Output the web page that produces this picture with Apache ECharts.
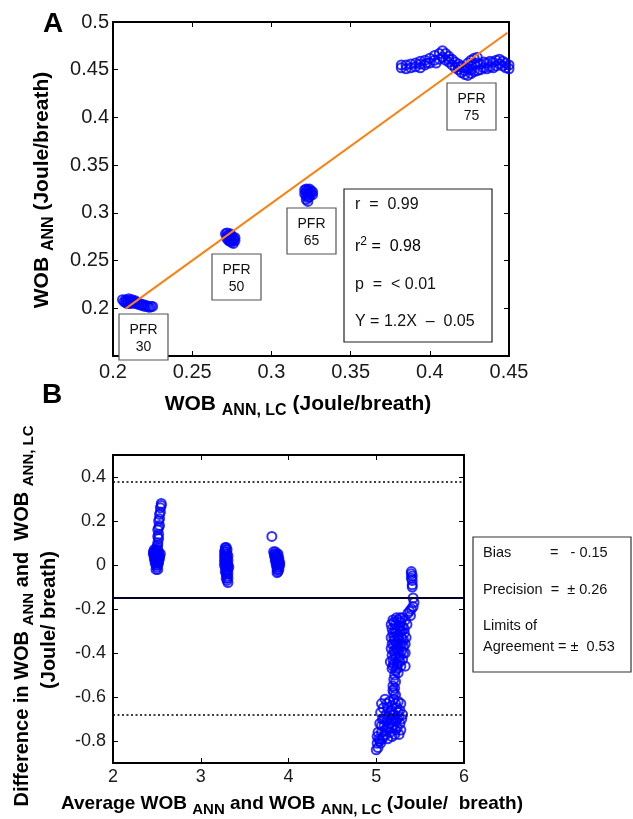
<!DOCTYPE html>
<html>
<head>
<meta charset="utf-8">
<script src="https://cdn.jsdelivr.net/npm/echarts@6/dist/echarts.min.js"></script>
<style>
html, body { margin: 0; padding: 0; background: #fff; }
#chart { width: 633px; height: 819px; }
</style>
</head>
<body>
<div id="chart"></div>
<script>
// ---------- Panel A: WOB_ANN vs WOB_ANN,LC ----------
const pfr30 = [[0.206,0.209],[0.207,0.207],[0.208,0.209],[0.208,0.206],[0.209,0.208],[0.210,0.210],[0.210,0.206],[0.211,0.208],[0.212,0.209],[0.212,0.206],[0.213,0.207],[0.214,0.208],[0.215,0.206],[0.216,0.204],[0.217,0.205],[0.218,0.203],[0.219,0.204],[0.220,0.202],[0.221,0.203],[0.222,0.202],[0.223,0.201],[0.224,0.202],[0.225,0.202],[0.214,0.205],[0.211,0.205],[0.209,0.205]];
const pfr50 = [[0.271,0.278],[0.272,0.279],[0.273,0.277],[0.274,0.278],[0.272,0.276],[0.273,0.274],[0.274,0.275],[0.275,0.276],[0.276,0.274],[0.272,0.273],[0.274,0.272],[0.275,0.271],[0.276,0.272],[0.277,0.271],[0.275,0.269],[0.276,0.268],[0.274,0.270],[0.277,0.274],[0.273,0.271]];
const pfr65 = [[0.321,0.324],[0.322,0.325],[0.323,0.324],[0.324,0.325],[0.325,0.323],[0.326,0.322],[0.322,0.322],[0.324,0.321],[0.321,0.320],[0.323,0.319],[0.325,0.320],[0.322,0.318],[0.324,0.317],[0.323,0.316],[0.322,0.314],[0.323,0.312],[0.326,0.319]];
const pfr75 = [[0.382,0.452],[0.382,0.455],[0.385,0.451],[0.385,0.455],[0.388,0.452],[0.388,0.456],[0.391,0.453],[0.391,0.457],[0.394,0.452],[0.394,0.456],[0.394,0.459],[0.397,0.455],[0.397,0.460],[0.398,0.457],[0.400,0.457],[0.400,0.462],[0.403,0.460],[0.403,0.465],[0.404,0.457],[0.406,0.461],[0.406,0.467],[0.408,0.463],[0.408,0.470],[0.410,0.460],[0.410,0.467],[0.412,0.458],[0.412,0.461],[0.412,0.464],[0.414,0.455],[0.414,0.461],[0.416,0.452],[0.416,0.458],[0.418,0.450],[0.418,0.453],[0.418,0.456],[0.420,0.447],[0.420,0.454],[0.422,0.445],[0.422,0.449],[0.422,0.452],[0.424,0.444],[0.424,0.451],[0.424,0.457],[0.426,0.446],[0.426,0.450],[0.426,0.454],[0.426,0.460],[0.428,0.448],[0.428,0.456],[0.428,0.462],[0.430,0.449],[0.430,0.457],[0.430,0.463],[0.432,0.450],[0.432,0.456],[0.434,0.452],[0.434,0.458],[0.436,0.451],[0.436,0.457],[0.438,0.453],[0.438,0.459],[0.440,0.452],[0.440,0.458],[0.442,0.454],[0.442,0.460],[0.444,0.456],[0.444,0.461],[0.446,0.454],[0.446,0.459],[0.448,0.452],[0.448,0.457],[0.450,0.451],[0.450,0.455]];

// Regression Y = 1.2X - 0.05 over the measured range
const fitSlope = 1.2;
const fitIntercept = -0.05;
const fitXRange = [0.208, 0.449];

const aXTicks = [0.2, 0.25, 0.3, 0.35, 0.4, 0.45];
const aYTicks = [0.2, 0.25, 0.3, 0.35, 0.4, 0.45, 0.5];

// ---------- Panel B: Bland-Altman ----------
const baPfr30 = [[2.55,0.28],[2.55,0.27],[2.54,0.26],[2.54,0.24],[2.53,0.23],[2.53,0.21],[2.52,0.20],[2.53,0.18],[2.52,0.17],[2.51,0.16],[2.52,0.14],[2.51,0.13],[2.52,0.12],[2.51,0.10],[2.51,0.09],[2.50,0.08],
  [2.47,0.07],[2.49,0.07],[2.51,0.07],[2.46,0.06],[2.48,0.06],[2.50,0.06],[2.52,0.06],[2.46,0.05],[2.48,0.05],[2.50,0.05],[2.52,0.05],[2.54,0.05],[2.47,0.04],[2.49,0.04],[2.51,0.04],[2.53,0.04],[2.47,0.03],[2.49,0.03],[2.51,0.03],[2.53,0.03],[2.48,0.02],[2.50,0.02],[2.52,0.02],[2.48,0.01],[2.50,0.01],[2.52,0.01],[2.49,0.00],[2.51,0.00],[2.50,-0.01],[2.49,-0.02],[2.51,-0.02]];
const baPfr50 = [[3.28,0.08],[3.29,0.08],[3.28,0.07],[3.30,0.07],[3.27,0.06],[3.29,0.06],[3.28,0.05],[3.30,0.05],[3.27,0.04],[3.29,0.04],[3.31,0.04],[3.28,0.03],[3.30,0.03],[3.27,0.02],[3.29,0.02],[3.31,0.02],[3.28,0.01],[3.30,0.01],[3.27,0.00],[3.29,0.00],[3.31,0.00],[3.28,-0.01],[3.30,-0.01],[3.32,-0.01],[3.29,-0.02],[3.31,-0.02],[3.28,-0.03],[3.30,-0.03],[3.29,-0.04],[3.31,-0.04],[3.30,-0.05],[3.29,-0.06],[3.31,-0.06],[3.30,-0.07],[3.31,-0.08]];
const baPfr65 = [[3.81,0.13],[3.83,0.06],[3.85,0.06],[3.84,0.05],[3.86,0.05],[3.88,0.05],[3.84,0.04],[3.86,0.04],[3.88,0.04],[3.85,0.03],[3.87,0.03],[3.89,0.03],[3.85,0.02],[3.87,0.02],[3.89,0.02],[3.86,0.01],[3.88,0.01],[3.90,0.01],[3.86,0.00],[3.88,0.00],[3.90,0.00],[3.87,-0.01],[3.89,-0.01],[3.87,-0.02],[3.89,-0.02],[3.88,-0.03],[3.87,-0.035]];
const baPfr75 = [[5.40,-0.03],[5.40,-0.04],[5.41,-0.05],[5.40,-0.06],[5.41,-0.07],[5.41,-0.09],[5.41,-0.10],
  [5.42,-0.15],[5.43,-0.17],[5.42,-0.19],[5.40,-0.20],[5.38,-0.21],[5.36,-0.22],[5.39,-0.23],
  [5.30,-0.24],[5.25,-0.25],[5.20,-0.26],[5.17,-0.27],[5.22,-0.27],[5.28,-0.26],[5.33,-0.25],[5.18,-0.29],[5.24,-0.29],[5.30,-0.28],[5.35,-0.27],[5.19,-0.31],[5.22,-0.31],[5.27,-0.30],[5.32,-0.31],[5.17,-0.33],[5.21,-0.34],[5.25,-0.33],[5.29,-0.33],[5.34,-0.33],[5.18,-0.36],[5.23,-0.36],[5.27,-0.36],[5.31,-0.37],[5.17,-0.38],[5.20,-0.39],[5.25,-0.39],[5.29,-0.39],[5.33,-0.40],[5.18,-0.41],[5.22,-0.42],[5.26,-0.42],[5.30,-0.43],[5.16,-0.44],[5.20,-0.45],[5.24,-0.45],[5.28,-0.46],[5.18,-0.47],[5.22,-0.48],[5.25,-0.49],[5.19,-0.43],[5.23,-0.38],[5.27,-0.28],[5.26,-0.34],[5.21,-0.29],[5.33,-0.46],
  [5.19,-0.25],[5.23,-0.24],[5.27,-0.24],[5.32,-0.29],[5.29,-0.30],[5.24,-0.32],[5.20,-0.33],[5.31,-0.34],[5.20,-0.36],[5.25,-0.37],[5.29,-0.36],[5.33,-0.36],[5.21,-0.40],[5.27,-0.41],[5.31,-0.40],[5.19,-0.46],[5.27,-0.44],[5.24,-0.47],
  [5.21,-0.50],[5.20,-0.52],[5.22,-0.53],[5.19,-0.55],[5.21,-0.56],[5.20,-0.58],[5.22,-0.59],[5.19,-0.57],
  [5.06,-0.63],[5.10,-0.61],[5.15,-0.62],[5.20,-0.61],[5.25,-0.62],[5.28,-0.63],[5.08,-0.65],[5.13,-0.65],[5.18,-0.64],[5.23,-0.65],[5.27,-0.66],[5.05,-0.67],[5.11,-0.68],[5.16,-0.67],[5.21,-0.68],[5.26,-0.69],[5.30,-0.68],[5.07,-0.70],[5.12,-0.71],[5.17,-0.70],[5.22,-0.71],[5.27,-0.72],[5.04,-0.72],[5.09,-0.73],[5.14,-0.74],[5.19,-0.73],[5.24,-0.74],[5.28,-0.75],[5.02,-0.76],[5.06,-0.76],[5.11,-0.77],[5.16,-0.76],[5.21,-0.77],[5.03,-0.79],[5.08,-0.78],[5.13,-0.79],[5.01,-0.81],[5.05,-0.81],[5.02,-0.83],[5.00,-0.84],[5.10,-0.75],[5.15,-0.72],[5.20,-0.70],[5.25,-0.67],
  [5.12,-0.63],[5.17,-0.66],[5.22,-0.63],[5.29,-0.70],[5.14,-0.69],[5.19,-0.68],[5.24,-0.70],[5.09,-0.70],[5.06,-0.73],[5.12,-0.74],[5.17,-0.74],[5.22,-0.75],[5.26,-0.77],[5.07,-0.79],[5.04,-0.80],[5.18,-0.78],[5.01,-0.78]];

const bias = -0.15;
const limitsOfAgreement = 0.53;

const bXTicks = [2, 3, 4, 5, 6];
const bYTicks = [-0.8, -0.6, -0.4, -0.2, 0, 0.2, 0.4];

// ---------- Styling ----------
const FONT = 'Liberation Sans, Arial, sans-serif';
const BLUE = '#0000ff';

const fitLine = fitXRange.map(x => [x, fitSlope * x + fitIntercept]);

function frameAxis(extra) {
  return Object.assign({
    type: 'value',
    axisLine: { show: true, onZero: false, lineStyle: { color: '#000', width: 2 } },
    axisTick: { show: true, inside: true, length: 5, lineStyle: { color: '#000', width: 1 } },
    splitLine: { show: false },
    axisLabel: { show: false }
  }, extra);
}

function tickLabels(values, size, margin) {
  return { show: true, customValues: values, fontSize: size, fontFamily: FONT, color: '#1a1a1a', margin: margin };
}

function ticks(values) {
  return { show: true, inside: true, length: 5, customValues: values, lineStyle: { color: '#000', width: 1 } };
}

const circleStyle = { color: 'rgba(0,0,0,0)', borderColor: BLUE, borderWidth: 2 };

function scatter(data, xi, yi) {
  return {
    type: 'scatter', xAxisIndex: xi, yAxisIndex: yi, data: data,
    symbol: 'circle', symbolSize: 9, itemStyle: circleStyle, silent: true
  };
}

const titleRich = (big, small) => ({
  b: { fontSize: big, fontWeight: 'bold', fontFamily: FONT, color: '#000', lineHeight: big + 8 },
  s: { fontSize: small, fontWeight: 'bold', fontFamily: FONT, color: '#000', lineHeight: small + 2, verticalAlign: 'bottom' }
});

function textEl(x, y, text, size, opts) {
  return {
    type: 'text', x: x, y: y, z: 100,
    style: Object.assign({ text: text, fontSize: size, fontFamily: FONT, fill: '#111', align: 'center', verticalAlign: 'middle' }, opts || {})
  };
}

function boxEl(x, y, w, h, stroke) {
  return { type: 'rect', z: 90, shape: { x: x, y: y, width: w, height: h }, style: { fill: '#fff', stroke: stroke, lineWidth: 1.2 } };
}

const chart = echarts.init(document.getElementById('chart'), null, { renderer: 'canvas' });

const option = {
  animation: false,
  backgroundColor: '#fff',
  grid: [
    { left: 113, top: 22, width: 396, height: 334 },
    { left: 113, top: 455, width: 351, height: 308 }
  ],
  xAxis: [
    frameAxis({ gridIndex: 0, position: 'bottom', min: 0.2, max: 0.45, axisTick: ticks(aXTicks), axisLabel: tickLabels(aXTicks, 20, 6) }),
    frameAxis({ gridIndex: 0, position: 'top', min: 0.2, max: 0.45, axisTick: ticks(aXTicks) }),
    frameAxis({ gridIndex: 1, position: 'bottom', min: 2, max: 6, axisTick: ticks(bXTicks), axisLabel: tickLabels(bXTicks, 18, 5) }),
    frameAxis({ gridIndex: 1, position: 'top', min: 2, max: 6, axisTick: ticks(bXTicks) })
  ],
  yAxis: [
    frameAxis({ gridIndex: 0, position: 'left', min: 0.15, max: 0.5, axisTick: ticks(aYTicks), axisLabel: tickLabels(aYTicks, 20, 4) }),
    frameAxis({ gridIndex: 0, position: 'right', min: 0.15, max: 0.5, axisTick: ticks(aYTicks) }),
    frameAxis({ gridIndex: 1, position: 'left', min: -0.9, max: 0.5, axisTick: ticks(bYTicks), axisLabel: tickLabels(bYTicks, 18, 7) }),
    frameAxis({ gridIndex: 1, position: 'right', min: -0.9, max: 0.5, axisTick: ticks(bYTicks) })
  ],
  series: [
    scatter(pfr30, 0, 0),
    scatter(pfr50, 0, 0),
    scatter(pfr65, 0, 0),
    scatter(pfr75, 0, 0),
    {
      type: 'line', xAxisIndex: 0, yAxisIndex: 0, data: fitLine, symbol: 'none', silent: true, z: 3,
      lineStyle: { color: '#ff7f0e', width: 2 }
    },
    Object.assign(scatter(baPfr30, 2, 2), {
      markLine: {
        silent: true, symbol: 'none', label: { show: false }, animation: false,
        data: [
          { yAxis: bias + limitsOfAgreement, lineStyle: { type: [2, 2.5], color: '#000', width: 1.6 } },
          { yAxis: bias, lineStyle: { type: 'solid', color: '#000028', width: 2.2 } },
          { yAxis: bias - limitsOfAgreement, lineStyle: { type: [2, 2.5], color: '#000', width: 1.6 } }
        ]
      }
    }),
    scatter(baPfr50, 2, 2),
    scatter(baPfr65, 2, 2),
    scatter(baPfr75, 2, 2)
  ],
  graphic: [
    // panel letters
    textEl(53, 24, 'A', 28, { fontWeight: 'bold', fill: '#000' }),
    textEl(52, 395, 'B', 28, { fontWeight: 'bold', fill: '#000' }),

    // panel A axis titles
    { type: 'text', x: 298, y: 404, z: 100, style: { text: '{b|WOB }{s|ANN, LC}{b| (Joule/breath)}', rich: titleRich(21, 16), align: 'center', verticalAlign: 'middle' } },
    { type: 'text', x: 42, y: 190, rotation: Math.PI / 2, z: 100, style: { text: '{b|WOB }{s|ANN}{b| (Joule/breath)}', rich: titleRich(21, 16), align: 'center', verticalAlign: 'middle' } },

    // panel B axis titles
    { type: 'text', x: 292, y: 804, z: 100, style: { text: '{b|Average WOB }{s|ANN}{b| and WOB }{s|ANN, LC}{b| (Joule/  breath)}', rich: titleRich(19, 15), align: 'center', verticalAlign: 'middle' } },
    { type: 'text', x: 22, y: 616, rotation: Math.PI / 2, z: 100, style: { text: '{b|Difference in WOB }{s|ANN}{b| and  WOB }{s|ANN, LC}', rich: titleRich(20, 15), align: 'center', verticalAlign: 'middle' } },
    { type: 'text', x: 49, y: 620, rotation: Math.PI / 2, z: 100, style: { text: '{b|(Joule/ breath)}', rich: titleRich(20, 15), align: 'center', verticalAlign: 'middle' } },

    // PFR labels
    boxEl(119, 314, 49, 46, '#555'),
    textEl(143.5, 330, 'PFR', 14), textEl(143.5, 347, '30', 14),
    boxEl(212, 254, 49, 46, '#555'),
    textEl(236.5, 270, 'PFR', 14), textEl(236.5, 287, '50', 14),
    boxEl(287, 208, 49, 46, '#555'),
    textEl(311.5, 224, 'PFR', 14), textEl(311.5, 241, '65', 14),
    boxEl(447, 83, 49, 47, '#555'),
    textEl(471.5, 99, 'PFR', 14), textEl(471.5, 116, '75', 14),

    // correlation statistics
    boxEl(344, 189, 148, 153, '#222'),
    textEl(355, 205, 'r  =  0.99', 16, { align: 'left' }),
    { type: 'text', x: 355, y: 247, z: 100, style: { text: '{t|r}{u|2}{t| =  0.98}', align: 'left', verticalAlign: 'middle',
      rich: { t: { fontSize: 16, fontFamily: FONT, color: '#111', lineHeight: 22 }, u: { fontSize: 12, fontFamily: FONT, color: '#111', verticalAlign: 'top', lineHeight: 12 } } } },
    textEl(355, 285, 'p  =  < 0.01', 16, { align: 'left' }),
    textEl(355, 322, 'Y = 1.2X  \u2013  0.05', 16, { align: 'left' }),

    // agreement statistics
    boxEl(473, 537, 158, 135, '#333'),
    textEl(483, 553, 'Bias', 14.5, { align: 'left' }),
    textEl(550, 553, '=   - 0.15', 14.5, { align: 'left' }),
    textEl(483, 590, 'Precision  =  \u00b1 0.26', 14.5, { align: 'left' }),
    textEl(483, 626, 'Limits of', 14.5, { align: 'left' }),
    textEl(483, 647, 'Agreement = \u00b1  0.53', 14.5, { align: 'left' })
  ]
};

chart.setOption(option);
</script>
</body>
</html>
